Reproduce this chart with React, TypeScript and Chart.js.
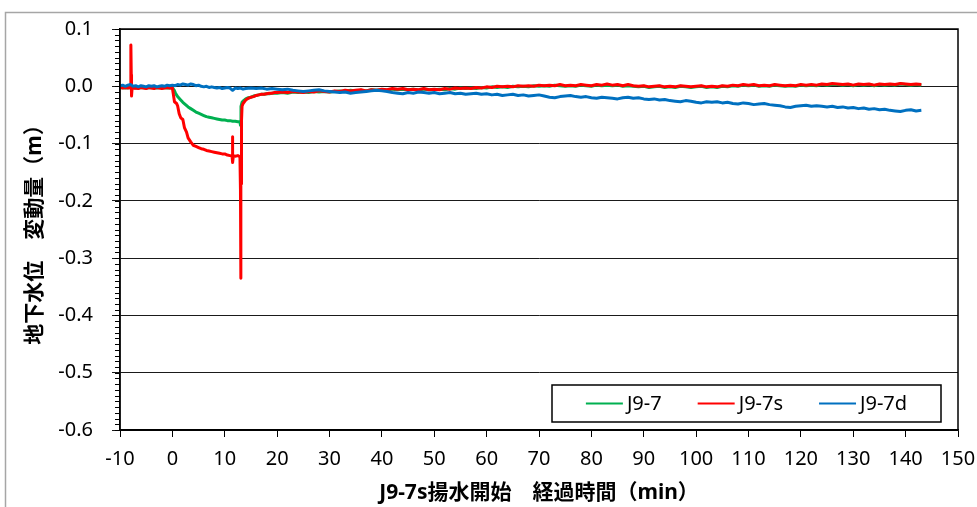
import React, { useEffect, useRef } from "react";
import { Chart, registerables } from "chart.js";

Chart.register(...registerables);

// ---------- data ----------
const seriesNames = ["J9-7", "J9-7s", "J9-7d"];
const seriesColors = ["#00B050", "#FF0000", "#0070C0"];

const xTitle = "J9-7s揚水開始　経過時間（min）";
const yTitle = "地下水位　変動量（m）";

const xMin = -10;
const xMax = 150;
const xStep = 10;
const yMin = -0.6;
const yMax = 0.1;
const yStep = 0.1;

// early part (detailed) as [minutes, metres]
const greenEarly: [number, number][] = [
  [-10, -0.002], [-9, -0.003], [-8, -0.002], [-7, -0.003], [-6, -0.002], [-5, -0.003], [-4, -0.002],
  [-3, -0.003], [-2, -0.002], [-1, -0.003], [0, -0.003], [0.3, -0.006], [0.6, -0.012], [1.0, -0.018],
  [1.5, -0.023], [2, -0.028], [2.5, -0.032], [3, -0.036], [3.5, -0.039], [4, -0.042], [4.5, -0.045],
  [5, -0.047], [5.5, -0.049], [6, -0.051], [6.5, -0.053], [7, -0.054], [7.5, -0.055], [8, -0.056],
  [8.5, -0.057], [9, -0.058], [9.5, -0.059], [10, -0.059], [10.5, -0.06], [11, -0.06], [11.5, -0.061],
  [12, -0.061], [12.5, -0.062], [12.9, -0.062], [13.0, -0.068], [13.1, -0.035], [13.3, -0.028],
  [13.6, -0.025], [14, -0.022], [14.5, -0.02], [15, -0.019], [15.5, -0.017], [16, -0.016],
  [16.5, -0.015], [17, -0.014], [17.5, -0.014], [18, -0.013], [18.5, -0.013], [19, -0.012], [19.5, -0.012],
];

const redEarly: [number, number][] = [
  [-10, -0.002], [-9.5, -0.003], [-9, -0.002], [-8.5, -0.003], [-8, -0.002], [-7.95, -0.002],
  [-7.9, 0.072], [-7.85, 0.02], [-7.8, -0.017], [-7.7, -0.004], [-7.2, -0.003], [-6.5, -0.004],
  [-6, -0.002], [-5.5, -0.003], [-5, -0.004], [-4.5, -0.002], [-4, -0.003], [-3.5, -0.004],
  [-3, -0.002], [-2.5, -0.003], [-2, -0.004], [-1.5, -0.003], [-1, -0.002], [-0.5, -0.003],
  [0, -0.003], [0.2, -0.015], [0.4, -0.027], [0.8, -0.03], [1.0, -0.034], [1.3, -0.048],
  [1.6, -0.055], [2.0, -0.058], [2.3, -0.072], [2.7, -0.08], [3.0, -0.09], [3.5, -0.097],
  [4.0, -0.103], [4.5, -0.105], [5, -0.107], [5.5, -0.109], [6, -0.11], [6.5, -0.112],
  [7, -0.113], [7.5, -0.114], [8, -0.115], [8.5, -0.116], [9, -0.117], [9.5, -0.118],
  [10, -0.118], [10.5, -0.12], [11, -0.121], [11.4, -0.122], [11.45, -0.088], [11.55, -0.133],
  [11.65, -0.121], [12, -0.122], [12.5, -0.121], [12.9, -0.123], [13.0, -0.18], [13.05, -0.335],
  [13.1, -0.13], [13.15, -0.17], [13.2, -0.06], [13.3, -0.035], [13.5, -0.03], [14, -0.024],
  [14.5, -0.021], [15, -0.019], [15.5, -0.018], [16, -0.016], [16.5, -0.015], [17, -0.014],
  [17.5, -0.014], [18, -0.013], [18.5, -0.012], [19, -0.012], [19.5, -0.011],
];

const blueEarly: [number, number][] = [
  [-10, 0.001], [-9.5, 0.002], [-9, 0.0], [-8.5, 0.002], [-8, 0.003], [-7.5, 0.0], [-7, 0.001],
  [-6.5, -0.001], [-6, 0.001], [-5.5, 0.0], [-5, -0.001], [-4.5, 0.001], [-4, 0.0], [-3.5, 0.001],
  [-3, -0.001], [-2.5, 0.0], [-2, 0.001], [-1.5, 0.0], [-1, 0.002], [-0.5, 0.001], [0, 0.002],
  [0.5, 0.001], [1, 0.003], [1.5, 0.002], [2, 0.004], [2.5, 0.003], [3, 0.002], [3.5, 0.004],
  [4, 0.003], [4.5, 0.001], [5, 0.002], [5.5, 0.0], [6, -0.001], [6.5, 0.0], [7, -0.002],
  [7.5, -0.001], [8, -0.002], [8.5, -0.003], [9, -0.002], [9.5, -0.004], [10, -0.003],
  [10.5, -0.002], [11, -0.003], [11.5, -0.007], [12, -0.003], [12.5, -0.004], [13, -0.003],
  [13.5, -0.005], [14, -0.004], [15, -0.003], [16, -0.004], [17, -0.003], [18, -0.005], [19, -0.004],
];

// later part: one reading per minute
const lateTimes = [
  20, 21, 22, 23, 24, 25, 26, 27, 28, 29,
  30, 31, 32, 33, 34, 35, 36, 37, 38, 39,
  40, 41, 42, 43, 44, 45, 46, 47, 48, 49,
  50, 51, 52, 53, 54, 55, 56, 57, 58, 59,
  60, 61, 62, 63, 64, 65, 66, 67, 68, 69,
  70, 71, 72, 73, 74, 75, 76, 77, 78, 79,
  80, 81, 82, 83, 84, 85, 86, 87, 88, 89,
  90, 91, 92, 93, 94, 95, 96, 97, 98, 99,
  100, 101, 102, 103, 104, 105, 106, 107, 108, 109,
  110, 111, 112, 113, 114, 115, 116, 117, 118, 119,
  120, 121, 122, 123, 124, 125, 126, 127, 128, 129,
  130, 131, 132, 133, 134, 135, 136, 137, 138, 139,
  140, 141, 142, 143,
];

const greenLate = [
  -0.012, -0.011, -0.012, -0.01, -0.011, -0.01, -0.011, -0.009, -0.01, -0.009,
  -0.01, -0.009, -0.008, -0.009, -0.007, -0.008, -0.007, -0.008, -0.006, -0.007,
  -0.006, -0.007, -0.005, -0.006, -0.005, -0.006, -0.005, -0.007, -0.005, -0.006,
  -0.006, -0.005, -0.006, -0.004, -0.005, -0.003, -0.004, -0.003, -0.004, -0.002,
  -0.003, -0.001, -0.002, -0.001, -0.002, 0.0, -0.001, 0.0, -0.001, 0.001,
  0.0, 0.001, 0.0, 0.002, 0.001, 0.0, 0.001, 0.0, 0.002, 0.001,
  0.0, 0.002, 0.001, 0.002, 0.001, 0.002, 0.0, 0.001, 0.0, -0.001,
  0.0, -0.002, -0.001, 0.0, -0.002, -0.001, -0.002, 0.0, -0.001, -0.002,
  -0.001, 0.0, -0.002, -0.001, -0.002, 0.0, -0.001, 0.001, 0.0, 0.002,
  0.001, 0.002, 0.0, 0.001, 0.0, 0.002, 0.001, 0.0, 0.001, 0.0,
  0.002, 0.001, 0.002, 0.001, 0.003, 0.002, 0.003, 0.003, 0.002, 0.003,
  0.001, 0.003, 0.002, 0.003, 0.001, 0.003, 0.002, 0.003, 0.002, 0.004,
  0.003, 0.002, 0.003, 0.002,
];

const redLate = [
  -0.011, -0.01, -0.011, -0.009, -0.01, -0.011, -0.009, -0.01, -0.008, -0.009,
  -0.01, -0.008, -0.009, -0.007, -0.008, -0.007, -0.006, -0.008, -0.006, -0.007,
  -0.005, -0.006, -0.004, -0.005, -0.004, -0.006, -0.005, -0.006, -0.004, -0.006,
  -0.005, -0.006, -0.004, -0.005, -0.003, -0.004, -0.003, -0.004, -0.002, -0.003,
  -0.001, -0.002, 0.0, -0.001, 0.0, -0.001, 0.001, 0.0, 0.001, 0.0,
  0.002, 0.001, 0.002, 0.001, 0.003, 0.001, 0.002, 0.001, 0.003, 0.002,
  0.001, 0.003, 0.002, 0.004, 0.002, 0.003, 0.001, 0.003, 0.001, 0.0,
  0.001, -0.001, 0.0, 0.001, -0.001, 0.0, -0.001, 0.001, 0.0, -0.001,
  0.0, 0.001, -0.001, 0.0, -0.001, 0.001, 0.0, 0.002, 0.001, 0.003,
  0.002, 0.003, 0.001, 0.002, 0.001, 0.003, 0.002, 0.001, 0.002, 0.001,
  0.003, 0.002, 0.003, 0.002, 0.004, 0.003, 0.005, 0.004, 0.003, 0.004,
  0.002, 0.004, 0.003, 0.004, 0.002, 0.004, 0.003, 0.004, 0.003, 0.005,
  0.004, 0.003, 0.004, 0.003,
];

const blueLate = [
  -0.005, -0.006, -0.005, -0.007, -0.008, -0.009, -0.008, -0.007, -0.006, -0.008,
  -0.009, -0.01, -0.011, -0.01, -0.012, -0.011, -0.01, -0.009, -0.008, -0.007,
  -0.008, -0.009, -0.011, -0.012, -0.013, -0.011, -0.012, -0.01, -0.011, -0.012,
  -0.011, -0.013, -0.012, -0.011, -0.013, -0.012, -0.014, -0.013, -0.012, -0.014,
  -0.013, -0.015, -0.014, -0.016, -0.015, -0.014, -0.016, -0.015, -0.017, -0.016,
  -0.015, -0.017, -0.019, -0.02, -0.018, -0.017, -0.016, -0.018, -0.019, -0.018,
  -0.02, -0.021, -0.019, -0.02, -0.021, -0.022, -0.02, -0.019, -0.021, -0.02,
  -0.022, -0.023, -0.022, -0.024, -0.023, -0.025, -0.026, -0.027, -0.025, -0.026,
  -0.028, -0.029, -0.027, -0.028, -0.027, -0.029, -0.028, -0.03, -0.031, -0.029,
  -0.03, -0.032, -0.031, -0.03, -0.032, -0.033, -0.034, -0.036, -0.037, -0.035,
  -0.034, -0.033, -0.035, -0.034, -0.035, -0.036, -0.035, -0.037, -0.036, -0.038,
  -0.037, -0.039, -0.038, -0.04, -0.039, -0.041, -0.04, -0.042, -0.043, -0.044,
  -0.042, -0.041, -0.043, -0.042,
];

// ---------- helpers ----------
const buildPoints = (early: [number, number][], late: number[]) => [
  ...early.map(([x, y]) => ({ x, y })),
  ...late.map((y, i) => ({ x: lateTimes[i], y })),
];

const tickFont = { family: "'Noto Sans', 'Open Sans', sans-serif", size: 20 };
const titleFont = {
  family: "'Noto Sans', 'Noto Sans CJK JP', sans-serif",
  size: 21,
  weight: "bold" as const,
};

const decorPlugin = {
  id: "decor",
  beforeDraw(chart: any) {
    const ctx = chart.ctx as CanvasRenderingContext2D;
    ctx.save();
    ctx.fillStyle = "#ffffff";
    ctx.fillRect(0, 0, chart.width, chart.height);
    ctx.strokeStyle = "#a6a6a6";
    ctx.lineWidth = 1.5;
    ctx.beginPath();
    ctx.moveTo(5.5, chart.height);
    ctx.lineTo(5.5, 12.5);
    ctx.lineTo(chart.width, 12.5);
    ctx.stroke();
    ctx.restore();
  },
  afterDraw(chart: any) {
    const ctx = chart.ctx as CanvasRenderingContext2D;
    const a = chart.chartArea;
    const ys = chart.scales.y;
    ctx.save();
    // minor ticks on the y axis
    ctx.strokeStyle = "#000";
    ctx.lineWidth = 1;
    const nMinor = Math.round((yMax - yMin) / (yStep / 10));
    for (let i = 0; i <= nMinor; i++) {
      const v = yMin + (i * yStep) / 10;
      const py = Math.round(ys.getPixelForValue(v)) + 0.5;
      ctx.beginPath();
      ctx.moveTo(a.left - 5, py);
      ctx.lineTo(a.left, py);
      ctx.stroke();
    }
    // plot area frame
    ctx.lineWidth = 1.5;
    ctx.strokeRect(a.left, a.top, a.right - a.left, a.bottom - a.top);

    // legend box
    const boxRight = a.right - 17;
    const boxBottom = a.bottom - 8;
    const boxW = 389;
    const boxH = 37;
    const bx = boxRight - boxW;
    const by = boxBottom - boxH;
    ctx.fillStyle = "#fff";
    ctx.fillRect(bx, by, boxW, boxH);
    ctx.strokeStyle = "#000";
    ctx.lineWidth = 1.5;
    ctx.strokeRect(bx, by, boxW, boxH);

    ctx.font = `${tickFont.size}px ${tickFont.family}`;
    ctx.textBaseline = "middle";
    ctx.textAlign = "left";
    const lineLen = 37;
    const gapText = 4;
    const gapItem = 36;
    const datasets = chart.data.datasets;
    const widths = datasets.map((d: any) => ctx.measureText(d.label).width);
    const total =
      widths.reduce((s: number, w: number) => s + w + lineLen + gapText, 0) + gapItem * (datasets.length - 1);
    let cx = bx + (boxW - total) / 2;
    const cy = by + boxH / 2;
    datasets.forEach((d: any, i: number) => {
      ctx.strokeStyle = d.borderColor;
      ctx.lineWidth = 2;
      ctx.beginPath();
      ctx.moveTo(cx, cy);
      ctx.lineTo(cx + lineLen, cy);
      ctx.stroke();
      ctx.fillStyle = "#000";
      ctx.fillText(d.label, cx + lineLen + gapText, cy + 1);
      cx += lineLen + gapText + widths[i] + gapItem;
    });
    ctx.restore();
  },
};

export default function App() {
  const canvasRef = useRef<HTMLCanvasElement | null>(null);

  useEffect(() => {
    if (!canvasRef.current) return;
    const early = [greenEarly, redEarly, blueEarly];
    const late = [greenLate, redLate, blueLate];
    const drawOrder = [2, 1, 0];
    const chart = new Chart(canvasRef.current, {
      type: "line",
      data: {
        datasets: seriesNames.map((name, i) => ({
          label: name,
          data: buildPoints(early[i], late[i]),
          borderColor: seriesColors[i],
          backgroundColor: seriesColors[i],
          borderWidth: 3,
          pointRadius: 0,
          tension: 0,
          fill: false,
          borderJoinStyle: "round" as const,
          order: drawOrder[i],
        })),
      },
      options: {
        animation: false,
        responsive: false,
        parsing: false as any,
        layout: { padding: { left: 0, top: 29, right: 19, bottom: 0 } },
        plugins: {
          legend: { display: false },
          tooltip: { enabled: false },
        },
        scales: {
          x: {
            type: "linear",
            min: xMin,
            max: xMax,
            afterFit: (s: any) => {
              s.height = 77;
              s.paddingLeft = 0;
              s.paddingRight = 0;
            },
            ticks: {
              stepSize: xStep,
              autoSkip: false,
              maxRotation: 0,
              padding: 10,
              color: "#000",
              font: tickFont,
            },
            grid: { drawOnChartArea: false, drawTicks: true, tickLength: 7, color: "#000", lineWidth: 1 },
            border: { display: true, color: "#000", width: 1.5 },
            title: { display: true, text: xTitle, color: "#000", font: titleFont, padding: { top: 0, bottom: 1 } },
          },
          y: {
            type: "linear",
            min: yMin,
            max: yMax,
            afterFit: (s: any) => {
              s.width = 120;
              s.paddingTop = 0;
              s.paddingBottom = 0;
            },
            ticks: {
              stepSize: yStep,
              padding: 19,
              color: "#000",
              font: tickFont,
              callback: (v: any) => (Math.abs(Number(v)) < 1e-9 ? "0.0" : Number(v).toFixed(1)),
            },
            grid: { drawOnChartArea: true, drawTicks: true, tickLength: 8, color: "#1a1a1a", lineWidth: 1 },
            border: { display: true, color: "#000", width: 1.5 },
            title: { display: true, text: yTitle, color: "#000", font: titleFont, padding: { top: 22, bottom: 0 } },
          },
        },
      },
      plugins: [decorPlugin],
    });
    return () => chart.destroy();
  }, []);

  return (
    <div style={{ position: "fixed", left: 0, top: 0, width: 977, height: 507, background: "#fff" }}>
      <canvas ref={canvasRef} width={977} height={507} style={{ display: "block" }} />
    </div>
  );
}
